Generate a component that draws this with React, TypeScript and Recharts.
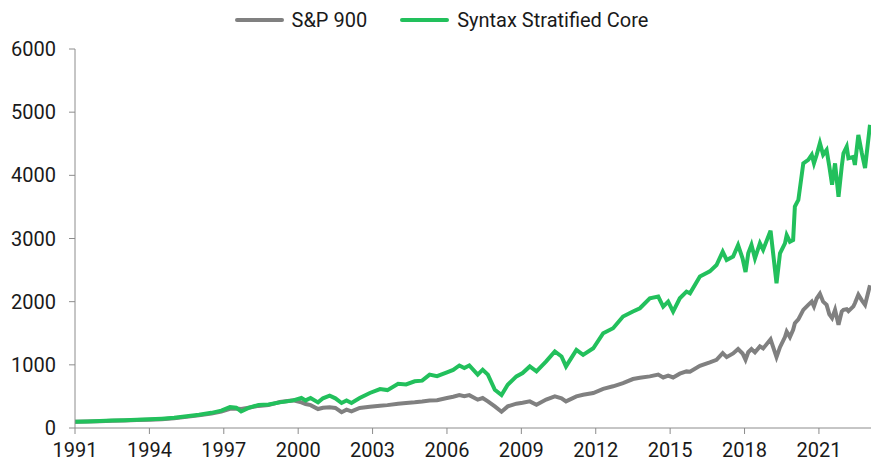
import React from 'react';
import { LineChart, Line, XAxis, YAxis, Legend } from 'recharts';

// fractional year of each observation
const years = [
  1991.0, 1991.5, 1992.0, 1992.5, 1993.0, 1993.5, 1994.0, 1994.5, 1995.0, 1995.5,
  1996.0, 1996.5, 1996.9, 1997.25, 1997.5, 1997.7, 1998.0, 1998.4, 1998.8, 1999.26,
  1999.8, 2000.13, 2000.3, 2000.5, 2000.8, 2001.0, 2001.27, 2001.5, 2001.75, 2001.95,
  2002.15, 2002.48, 2002.89, 2003.3, 2003.6, 2004.03, 2004.35, 2004.7, 2005.0, 2005.3,
  2005.6, 2006.0, 2006.25, 2006.5, 2006.7, 2006.9, 2007.24, 2007.44, 2007.65, 2007.93,
  2008.2, 2008.45, 2008.8, 2009.05, 2009.34, 2009.61, 2010.0, 2010.35, 2010.62, 2010.8,
  2011.22, 2011.49, 2011.9, 2012.3, 2012.7, 2013.1, 2013.5, 2013.78, 2014.18, 2014.52,
  2014.72, 2014.92, 2015.12, 2015.39, 2015.66, 2015.8, 2016.2, 2016.6, 2016.87, 2017.12,
  2017.28, 2017.54, 2017.74, 2017.92, 2018.04, 2018.15, 2018.28, 2018.42, 2018.62, 2018.75,
  2019.05, 2019.29, 2019.43, 2019.63, 2019.7, 2019.83, 2019.96, 2020.03, 2020.17, 2020.37,
  2020.57, 2020.71, 2020.8, 2020.91, 2021.04, 2021.17, 2021.31, 2021.42, 2021.53, 2021.65,
  2021.79, 2021.92, 2021.99, 2022.12, 2022.19, 2022.39, 2022.45, 2022.59, 2022.73, 2022.86,
  2023.06,
];

const sp900 = [
  100, 103, 108, 114, 120, 126, 132, 140, 155, 176,
  200, 228, 262, 305, 310, 300, 322, 350, 362, 412,
  437, 406, 380, 362, 300, 320, 330, 318, 250, 290,
  262, 318, 335, 353, 362, 385, 395, 406, 420, 437,
  440, 475, 495, 520, 505, 520, 448, 474, 421, 342,
  258, 342, 385, 400, 421, 369, 450, 500, 470, 421,
  500, 527, 553, 620, 660, 712, 775, 795, 817, 845,
  800, 830, 800, 860, 896, 890, 985, 1040, 1080, 1185,
  1122, 1180, 1250, 1180, 1080, 1200, 1250, 1197, 1292, 1260,
  1405, 1122, 1280, 1440, 1527, 1440, 1555, 1660, 1720, 1870,
  1950, 2000, 1925, 2050, 2125, 2000, 1950, 1800, 1740, 1870,
  1635, 1845, 1870, 1880, 1850, 1925, 1975, 2110, 2020, 1950,
  2260,
];

const syntax = [
  100, 104, 110, 117, 124, 130, 138, 148, 162, 185,
  210, 240, 275, 330, 322, 262, 318, 365, 372, 406,
  437, 475, 437, 475, 406, 470, 512, 470, 396, 437,
  396, 475, 554, 617, 600, 700, 690, 740, 750, 845,
  820, 880, 920, 990, 950, 990, 845, 923, 845, 606,
  522, 685, 817, 870, 975, 896, 1054, 1212, 1133, 975,
  1236, 1157, 1262, 1500, 1580, 1764, 1843, 1896, 2054, 2080,
  1922, 2000, 1843, 2054, 2160, 2133, 2400, 2480, 2580, 2792,
  2660, 2713, 2897, 2686, 2470, 2765, 2900, 2686, 2924, 2820,
  3125, 2290, 2765, 2924, 3055, 2950, 2977, 3505, 3610, 4190,
  4245, 4325, 4190, 4325, 4510, 4325, 4400, 4140, 3850, 4190,
  3660, 4140, 4350, 4455, 4270, 4290, 4165, 4640, 4350, 4115,
  4800,
];

const xTicks = [1991, 1994, 1997, 2000, 2003, 2006, 2009, 2012, 2015, 2018, 2021];
const yTicks = [0, 1000, 2000, 3000, 4000, 5000, 6000];

const data = years.map((year, i) => ({ year, sp900: sp900[i], syntax: syntax[i] }));

const GRAY = '#808080';
const GREEN = '#22c05c';
const AXIS = '#8c8c8c';
const FONT = 'Roboto, sans-serif';

function LegendBox() {
  const items = [
    { label: 'S&P 900', color: GRAY },
    { label: 'Syntax Stratified Core', color: GREEN },
  ];
  return (
    <div style={{ display: 'flex', justifyContent: 'center', paddingLeft: 12, fontFamily: FONT, fontSize: 20, color: '#1a1a1a' }}>
      {items.map((it, i) => (
        <div key={it.label} style={{ display: 'flex', alignItems: 'center', marginLeft: i ? 33 : 0 }}>
          <span style={{ display: 'inline-block', width: 49, height: 4, background: it.color, marginRight: 8, borderRadius: 2 }} />
          <span>{it.label}</span>
        </div>
      ))}
    </div>
  );
}

export default function App() {
  return (
    <div style={{ position: 'absolute', left: 0, top: 0, background: '#fff' }}>
      <LineChart width={871} height={463} data={data} margin={{ top: 49, right: 0, left: 0, bottom: 0 }}>
        <XAxis
          dataKey="year" type="number" domain={[1991, 2023.1]} ticks={xTicks}
          height={35} stroke={AXIS} tickSize={6} tickMargin={9}
          tick={{ fill: '#1a1a1a', fontSize: 20, fontFamily: FONT }}
        />
        <YAxis
          domain={[0, 6000]} ticks={yTicks} width={75} stroke={AXIS}
          tickSize={6} tickMargin={13}
          tick={{ fill: '#1a1a1a', fontSize: 20, fontFamily: FONT }}
        />
        <Legend verticalAlign="middle" align="center" layout="horizontal"
          wrapperStyle={{ top: 8, left: 0, width: 871 }} content={() => <LegendBox />} />
        <Line type="linear" dataKey="sp900" name="S&P 900" stroke={GRAY} strokeWidth={4}
          dot={false} isAnimationActive={false} />
        <Line type="linear" dataKey="syntax" name="Syntax Stratified Core" stroke={GREEN} strokeWidth={4}
          dot={false} isAnimationActive={false} />
      </LineChart>
    </div>
  );
}
